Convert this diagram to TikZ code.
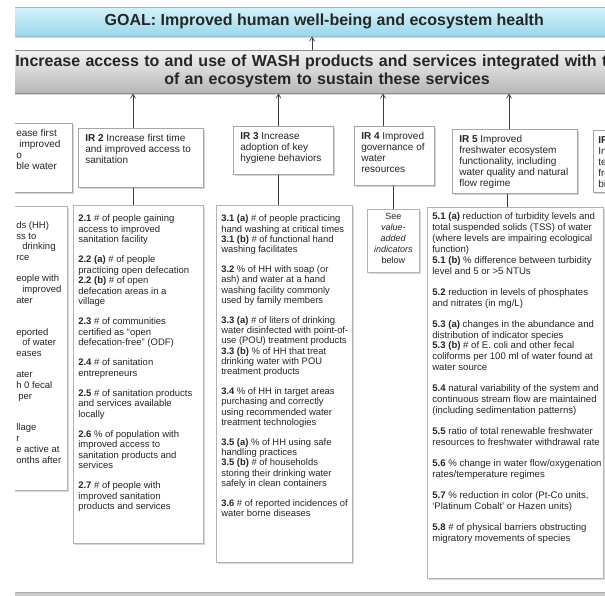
\documentclass[tikz,border=0pt]{standalone}
\usepackage{fontspec}
\setmainfont{Liberation Sans}
\usetikzlibrary{arrows.meta}
\definecolor{goaltop}{HTML}{D5F2FA}
\definecolor{goalbot}{HTML}{9AD6EB}
\definecolor{goaledge}{HTML}{86C3D8}
\definecolor{bartop}{HTML}{F2F2F2}
\definecolor{barbot}{HTML}{B6B6B6}
\definecolor{baredge}{HTML}{8C8C8C}
\definecolor{boxedge}{HTML}{A6A6A6}
\definecolor{shadowc}{HTML}{D6D6D6}
\definecolor{txt}{HTML}{262626}
\definecolor{arrowc}{HTML}{3C3C3C}
\newcommand{\colbox}[3]{\parbox[t][#2][t]{#1}{\begin{tabular}[t]{@{}l@{}}#3\end{tabular}}}
\newcommand{\cenbox}[3]{\parbox[t][#2][t]{#1}{\centering\begin{tabular}[t]{@{}c@{}}#3\end{tabular}}}
\begin{document}
\begin{tikzpicture}[x=1pt,y=-1pt,
  shadowed/.style={preaction={fill=shadowc, transform canvas={xshift=1.8pt,yshift=-1.8pt}}},
  goalbar/.style={shadowed, draw=goaledge, line width=0.5pt, top color=goaltop, bottom color=goalbot,
    anchor=north west, minimum width=624pt, minimum height=29pt, inner sep=0pt,
    font=\bfseries\fontsize{16}{18}\selectfont, text=txt},
  midbar/.style={shadowed, draw=baredge, line width=0.6pt, top color=bartop, bottom color=barbot,
    anchor=north west, minimum height=43pt, text width=680pt, align=left, inner xsep=3pt, inner ysep=0pt,
    font=\bfseries\fontsize{16}{18}\selectfont, text=txt},
  bottombar/.style={fill=barbot!70, draw=baredge!70, anchor=north west, minimum width=640pt, minimum height=10pt, inner sep=0pt},
  irbox/.style={shadowed, draw=boxedge, fill=white, line width=0.6pt, anchor=north west,
    inner xsep=7pt, inner ysep=5.5pt, font=\fontsize{10}{11}\selectfont, text=txt},
  indbox/.style={shadowed, draw=boxedge!85, fill=white, line width=0.6pt, anchor=north west,
    inner xsep=5pt, text=txt},
  link/.style={draw=arrowc, line width=0.7pt},
  arr/.style={link, -{Straight Barb[length=4pt,width=5pt]}}
]
\useasboundingbox (0,0) rectangle (605,596);
\fill[white] (0,0) rectangle (605,596);
\begin{scope}
\clip (15,0) rectangle (605,596);

% top bars
\node[goalbar] (goal) at (12,7) {GOAL: Improved human well-being and ecosystem health};
\node[midbar] (bar) at (12,50) {Increase access to and use of WASH products and services integrated with the\\\hspace*{149pt}of an ecosystem to sustain these services};

% IR boxes
\node[irbox, inner xsep=5pt] (ir1) at (11,123) {\colbox{51pt}{58pt}{ease first\\\hspace*{3pt}improved\\o\\ble water}};
\node[irbox] (ir2) at (78,128) {\colbox{111pt}{48pt}{\textbf{IR 2} Increase first time\\and improved access to\\sanitation}};
\node[irbox] (ir3) at (233,126) {\colbox{86pt}{37pt}{\textbf{IR 3} Increase\\adoption of key\\hygiene behaviors}};
\node[irbox] (ir4) at (354,126) {\colbox{66pt}{48pt}{\textbf{IR 4} Improved\\governance of\\water\\resources}};
\node[irbox] (ir5) at (452,129) {\colbox{111pt}{53pt}{\textbf{IR 5} Improved\\freshwater ecosystem\\functionality, including\\water quality and natural\\flow regime}};
\node[irbox, inner xsep=5pt] (ir6) at (593,130) {\colbox{100pt}{51pt}{\textbf{IR 6} Improved\\Increased\\technical\\freshwater\\biodiversity}};

% indicator boxes
\node[indbox, inner ysep=4pt, font=\fontsize{9.5}{10.7}\selectfont] (ind1) at (11,206) {\colbox{46pt}{276pt}{%
\\
ds (HH)\\
ss to\\
\hspace*{6pt}drinking\\
rce\\[10.5pt]
eople with\\
\hspace*{6pt}improved\\
ater\\[10.5pt]
\\
eported\\
\hspace*{6pt}of water\\
eases\\[10.5pt]
ater\\
h 0 fecal\\
\hspace*{2pt}per\\[10.5pt]
\\
llage\\
r\\
e active at\\
onths after}};

\node[indbox, inner ysep=9pt, font=\fontsize{9.5}{10.5}\selectfont] (ind2) at (73,205) {\colbox{120pt}{320pt}{%
\textbf{2.1} \# of people gaining\\
access to improved\\
sanitation facility\\[9.5pt]
\textbf{2.2 (a)} \# of people\\
practicing open defecation\\
\textbf{2.2 (b)} \# of open\\
defecation areas in a\\
village\\[9.5pt]
\textbf{2.3} \# of communities\\
certified as “open\\
defecation-free” (ODF)\\[9.5pt]
\textbf{2.4} \# of sanitation\\
entrepreneurs\\[9.5pt]
\textbf{2.5} \# of sanitation products\\
and services available\\
locally\\[9.5pt]
\textbf{2.6} \% of population with\\
improved access to\\
sanitation products and\\
services\\[9.5pt]
\textbf{2.7} \# of people with\\
improved sanitation\\
products and services}};

\node[indbox, inner ysep=9.3pt, font=\fontsize{9.4}{10.3}\selectfont] (ind3) at (216,205) {\colbox{126pt}{338.4pt}{%
\textbf{3.1 (a)} \# of people practicing\\
hand washing at critical times\\
\textbf{3.1 (b)} \# of functional hand\\
washing facilitates\\[9.5pt]
\textbf{3.2} \% of HH with soap (or\\
ash) and water at a hand\\
washing facility commonly\\
used by family members\\[9.5pt]
\textbf{3.3 (a)} \# of liters of drinking\\
water disinfected with point-of-\\
use (POU) treatment products\\
\textbf{3.3 (b)} \% of HH that treat\\
drinking water with POU\\
treatment products\\[9.5pt]
\textbf{3.4} \% of HH in target areas\\
purchasing and correctly\\
using recommended water\\
treatment technologies\\[9.5pt]
\textbf{3.5 (a)} \% of HH using safe\\
handling practices\\
\textbf{3.5 (b)} \# of households\\
storing their drinking water\\
safely in clean containers\\[9.5pt]
\textbf{3.6} \# of reported incidences of\\
water borne diseases}};

\node[indbox, inner ysep=2.8pt, font=\fontsize{9}{11}\selectfont] (ind4) at (367,209) {\cenbox{42pt}{57.4pt}{%
See\\
\textit{value-}\\
\textit{added}\\
\textit{indicators}\\
below}};

\node[indbox, inner ysep=5pt, font=\fontsize{9.6}{10.85}\selectfont] (ind5) at (427,207) {\colbox{166pt}{361pt}{%
\textbf{5.1 (a)} reduction of turbidity levels and\\
total suspended solids (TSS) of water\\
(where levels are impairing ecological\\
function)\\
\textbf{5.1 (b)} \% difference between turbidity\\
level and 5 or >5 NTUs\\[10.3pt]
\textbf{5.2} reduction in levels of phosphates\\
and nitrates (in mg/L)\\[10.3pt]
\textbf{5.3 (a)} changes in the abundance and\\
distribution of indicator species\\
\textbf{5.3 (b)} \# of E. coli and other fecal\\
coliforms per 100 ml of water found at\\
water source\\[10.3pt]
\textbf{5.4} natural variability of the system and\\
continuous stream flow are maintained\\
(including sedimentation patterns)\\[10.3pt]
\textbf{5.5} ratio of total renewable freshwater\\
resources to freshwater withdrawal rate\\[10.3pt]
\textbf{5.6} \% change in water flow/oxygenation\\
rates/temperature regimes\\[10.3pt]
\textbf{5.7} \% reduction in color (Pt-Co units,\\
‘Platinum Cobalt’ or Hazen units)\\[10.3pt]
\textbf{5.8} \# of physical barriers obstructing\\
migratory movements of species}};

\node[bottombar] (bot) at (12,592) {};

% connectors
\coordinate (g0) at (312,0);
\draw[arr] (g0 |- bar.north) -- (g0 |- goal.south);
\coordinate (u2) at (133,0);
\draw[arr] (u2 |- ir2.north) -- (u2 |- bar.south);
\draw[link] (u2 |- ir2.south) -- (u2 |- ind2.north);
\coordinate (u3) at (278.5,0);
\draw[arr] (u3 |- ir3.north) -- (u3 |- bar.south);
\draw[link] (u3 |- ir3.south) -- (u3 |- ind3.north);
\coordinate (u4) at (383,0);
\coordinate (d4) at (393,0);
\draw[arr] (u4 |- ir4.north) -- (u4 |- bar.south);
\draw[link] (d4 |- ir4.south) -- (d4 |- ind4.north);
\coordinate (u5) at (509,0);
\coordinate (d5) at (507,0);
\draw[arr] (u5 |- ir5.north) -- (u5 |- bar.south);
\draw[link] (d5 |- ir5.south) -- (d5 |- ind5.north);
\end{scope}
\end{tikzpicture}
\end{document}
